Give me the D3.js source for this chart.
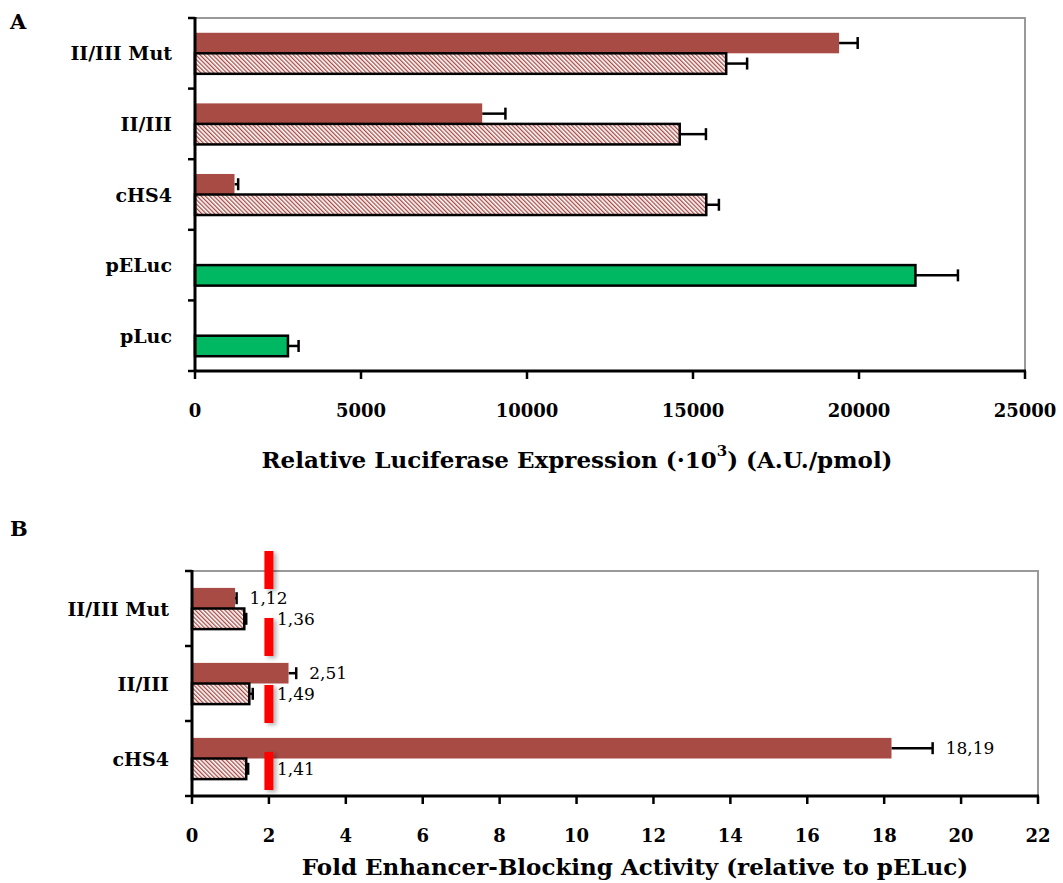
<!DOCTYPE html>
<html>
<head>
<meta charset="utf-8">
<script src="https://cdn.jsdelivr.net/npm/d3@7/dist/d3.min.js"></script>
<style>
  html, body { margin: 0; padding: 0; background: #fff; }
  svg { display: block; font-family: "DejaVu Serif", "Liberation Serif", serif; }
  .cat { font-weight: bold; font-size: 19px; }
  .tick-lbl { font-weight: bold; font-size: 18px; }
  .title { font-weight: bold; font-size: 23px; }
  .panel { font-weight: bold; font-size: 21px; }
  .val { font-size: 17px; }
</style>
</head>
<body>
<svg id="chart" width="1063" height="883"></svg>
<script>
// Panel A — luciferase expression (top to bottom)
const catsA = ['II/III Mut', 'II/III', 'cHS4', 'pELuc', 'pLuc'];
const redA = [19400, 8650, 1190, null, null];
const redErrA = [560, 700, 110, null, null];
const hatchA = [16000, 14600, 15400, null, null];
const hatchErrA = [630, 790, 380, null, null];
const greenA = [null, null, null, 21700, 2800];
const greenErrA = [null, null, null, 1280, 320];
const ticksA = [0, 5000, 10000, 15000, 20000, 25000];

// Panel B — fold enhancer-blocking activity
const catsB = ['II/III Mut', 'II/III', 'cHS4'];
const redB = [1.12, 2.51, 18.19];
const redErrB = [0.04, 0.2, 1.07];
const hatchB = [1.36, 1.49, 1.41];
const hatchErrB = [0.05, 0.09, 0.05];
const ticksB = [0, 2, 4, 6, 8, 10, 12, 14, 16, 18, 20, 22];
const thresholdB = 2;

const RED = '#a84b45';
const GREEN = '#00b862';
const svg = d3.select('#chart');

const defs = svg.append('defs');
const pat = defs.append('pattern')
  .attr('id', 'hatch').attr('patternUnits', 'userSpaceOnUse')
  .attr('width', 3).attr('height', 3)
  .attr('patternTransform', 'rotate(-45)');
pat.append('rect').attr('width', 3).attr('height', 3).attr('fill', '#fff');
pat.append('rect').attr('width', 1.3).attr('height', 3).attr('fill', RED);

// shadow for the threshold line (user-space region: the line has a zero-width bbox)
const shadow = defs.append('filter').attr('id', 'shadow')
  .attr('filterUnits', 'userSpaceOnUse')
  .attr('x', 0).attr('y', 500).attr('width', 1063).attr('height', 340);
shadow.append('feDropShadow').attr('dx', 3).attr('dy', 2)
  .attr('stdDeviation', 2).attr('flood-color', '#000').attr('flood-opacity', 0.3);

const ptFmt = d3.formatLocale({ decimal: ',', thousands: '.', grouping: [3], currency: ['', ''] }).format('.2f');

function frame(x0, x1, y0, y1) {
  svg.append('path').attr('d', `M${x0},${y0}H${x1}V${y1}`)
    .attr('fill', 'none').attr('stroke', '#999').attr('stroke-width', 2);
}

function axes(x, y, x0, x1, y0, y1, ticks, tickY, titleX, titleY) {
  const g = svg.append('g');
  const bounds = y.domain().map(c => y(c)).concat([y1]);
  g.selectAll('line.yt').data(bounds).enter().append('line')
    .attr('x1', x0 - 7).attr('x2', x0).attr('y1', d => d).attr('y2', d => d)
    .attr('stroke', '#000').attr('stroke-width', 2.5);
  g.append('line').attr('x1', x0).attr('x2', x0).attr('y1', y0 - 1).attr('y2', y1 + 1)
    .attr('stroke', '#000').attr('stroke-width', 3);
  g.append('line').attr('x1', x0 - 1).attr('x2', x1 + 1).attr('y1', y1).attr('y2', y1)
    .attr('stroke', '#000').attr('stroke-width', 3);
  g.selectAll('line.xt').data(ticks).enter().append('line')
    .attr('x1', d => x(d)).attr('x2', d => x(d)).attr('y1', y1).attr('y2', y1 + 8)
    .attr('stroke', '#000').attr('stroke-width', 2.5);
  g.selectAll('text.tl').data(ticks).enter().append('text')
    .attr('class', 'tick-lbl').attr('x', d => x(d)).attr('y', tickY)
    .attr('text-anchor', 'middle').attr('dominant-baseline', 'central')
    .text(d => d);
  g.selectAll('text.cat').data(y.domain()).enter().append('text')
    .attr('class', 'cat').attr('x', x0 - 23).attr('y', d => y(d) + y.bandwidth() / 2)
    .attr('text-anchor', 'end').attr('dominant-baseline', 'central')
    .text(d => d);
  return g.append('text').attr('class', 'title')
    .attr('x', titleX).attr('y', titleY)
    .attr('text-anchor', 'middle').attr('dominant-baseline', 'central');
}

function errBars(x, y, sub, key, vals, errs) {
  const data = vals.map((v, i) => ({ i, v, e: errs[i] })).filter(d => d.v != null);
  const cy = d => y(y.domain()[d.i]) + sub(key) + sub.bandwidth() / 2;
  const g = svg.append('g').attr('stroke', '#000').attr('stroke-width', 2.5);
  g.selectAll('line.h').data(data).enter().append('line')
    .attr('x1', d => x(d.v)).attr('x2', d => x(d.v + d.e))
    .attr('y1', cy).attr('y2', cy);
  g.selectAll('line.c').data(data).enter().append('line')
    .attr('x1', d => x(d.v + d.e)).attr('x2', d => x(d.v + d.e))
    .attr('y1', d => cy(d) - 6).attr('y2', d => cy(d) + 6);
}

function bars(x, y, sub, key, vals, fill, stroke) {
  const data = vals.map((v, i) => ({ i, v })).filter(d => d.v != null);
  svg.append('g').selectAll('rect').data(data).enter().append('rect')
    .attr('x', x(0)).attr('y', d => y(y.domain()[d.i]) + sub(key))
    .attr('width', d => x(d.v) - x(0)).attr('height', sub.bandwidth())
    .attr('fill', fill)
    .attr('stroke', stroke ? '#000' : 'none').attr('stroke-width', 2.5);
}

// ---------- Panel A ----------
{
  const x0 = 195, x1 = 1025, y0 = 18, y1 = 371;
  const x = d3.scaleLinear().domain([0, 25000]).range([x0, x1]);
  const y = d3.scaleBand().domain(catsA).range([y0, y1]).padding(0);
  const sub = d3.scaleBand().domain(['red', 'hatch']).range([0, y.bandwidth()])
    .paddingInner(0).paddingOuter(0.72);

  frame(x0, x1, y0, y1);
  errBars(x, y, sub, 'red', redA, redErrA);
  errBars(x, y, sub, 'hatch', hatchA, hatchErrA);
  errBars(x, y, sub, 'hatch', greenA, greenErrA);
  bars(x, y, sub, 'red', redA, RED, false);
  bars(x, y, sub, 'hatch', hatchA, 'url(#hatch)', true);
  bars(x, y, sub, 'hatch', greenA, GREEN, true);
  const t = axes(x, y, x0, x1, y0, y1, ticksA, 410, 577, 459);
  t.append('tspan').text('Relative Luciferase Expression (·10');
  t.append('tspan').attr('font-size', 15).attr('dy', -8).text('3');
  t.append('tspan').attr('dy', 8).text(') (A.U./pmol)');
  svg.append('text').attr('class', 'panel').attr('x', 10).attr('y', 29).text('A');
}

// ---------- Panel B ----------
{
  const x0 = 192, x1 = 1038, y0 = 571, y1 = 796;
  const x = d3.scaleLinear().domain([0, 22]).range([x0, x1]);
  const y = d3.scaleBand().domain(catsB).range([y0, y1]).padding(0);
  const sub = d3.scaleBand().domain(['red', 'hatch']).range([0, y.bandwidth()])
    .paddingInner(0).paddingOuter(0.82);

  frame(x0, x1, y0, y1);
  errBars(x, y, sub, 'red', redB, redErrB);
  errBars(x, y, sub, 'hatch', hatchB, hatchErrB);
  bars(x, y, sub, 'red', redB, RED, false);
  bars(x, y, sub, 'hatch', hatchB, 'url(#hatch)', true);

  // value labels
  const cy = (i, key) => y(catsB[i]) + sub(key) + sub.bandwidth() / 2;
  svg.append('g').selectAll('text').data(redB).enter().append('text')
    .attr('class', 'val').attr('x', (d, i) => x(d + redErrB[i]) + 13)
    .attr('y', (d, i) => cy(i, 'red')).attr('dominant-baseline', 'central')
    .text(d => ptFmt(d));
  svg.append('g').selectAll('text').data(hatchB).enter().append('text')
    .attr('class', 'val').attr('x', x(thresholdB) + 8)
    .attr('y', (d, i) => cy(i, 'hatch')).attr('dominant-baseline', 'central')
    .text(d => ptFmt(d));

  // red dashed threshold line at fold = 2
  svg.append('line')
    .attr('x1', x(thresholdB)).attr('x2', x(thresholdB))
    .attr('y1', 551).attr('y2', 790)
    .attr('stroke', '#ff0000').attr('stroke-width', 9)
    .attr('stroke-dasharray', '38,29')
    .attr('filter', 'url(#shadow)');

  const t = axes(x, y, x0, x1, y0, y1, ticksB, 835, 635, 866);
  t.text('Fold Enhancer-Blocking Activity (relative to pELuc)');
  svg.append('text').attr('class', 'panel').attr('x', 10).attr('y', 536).text('B');
}
</script>
</body>
</html>
